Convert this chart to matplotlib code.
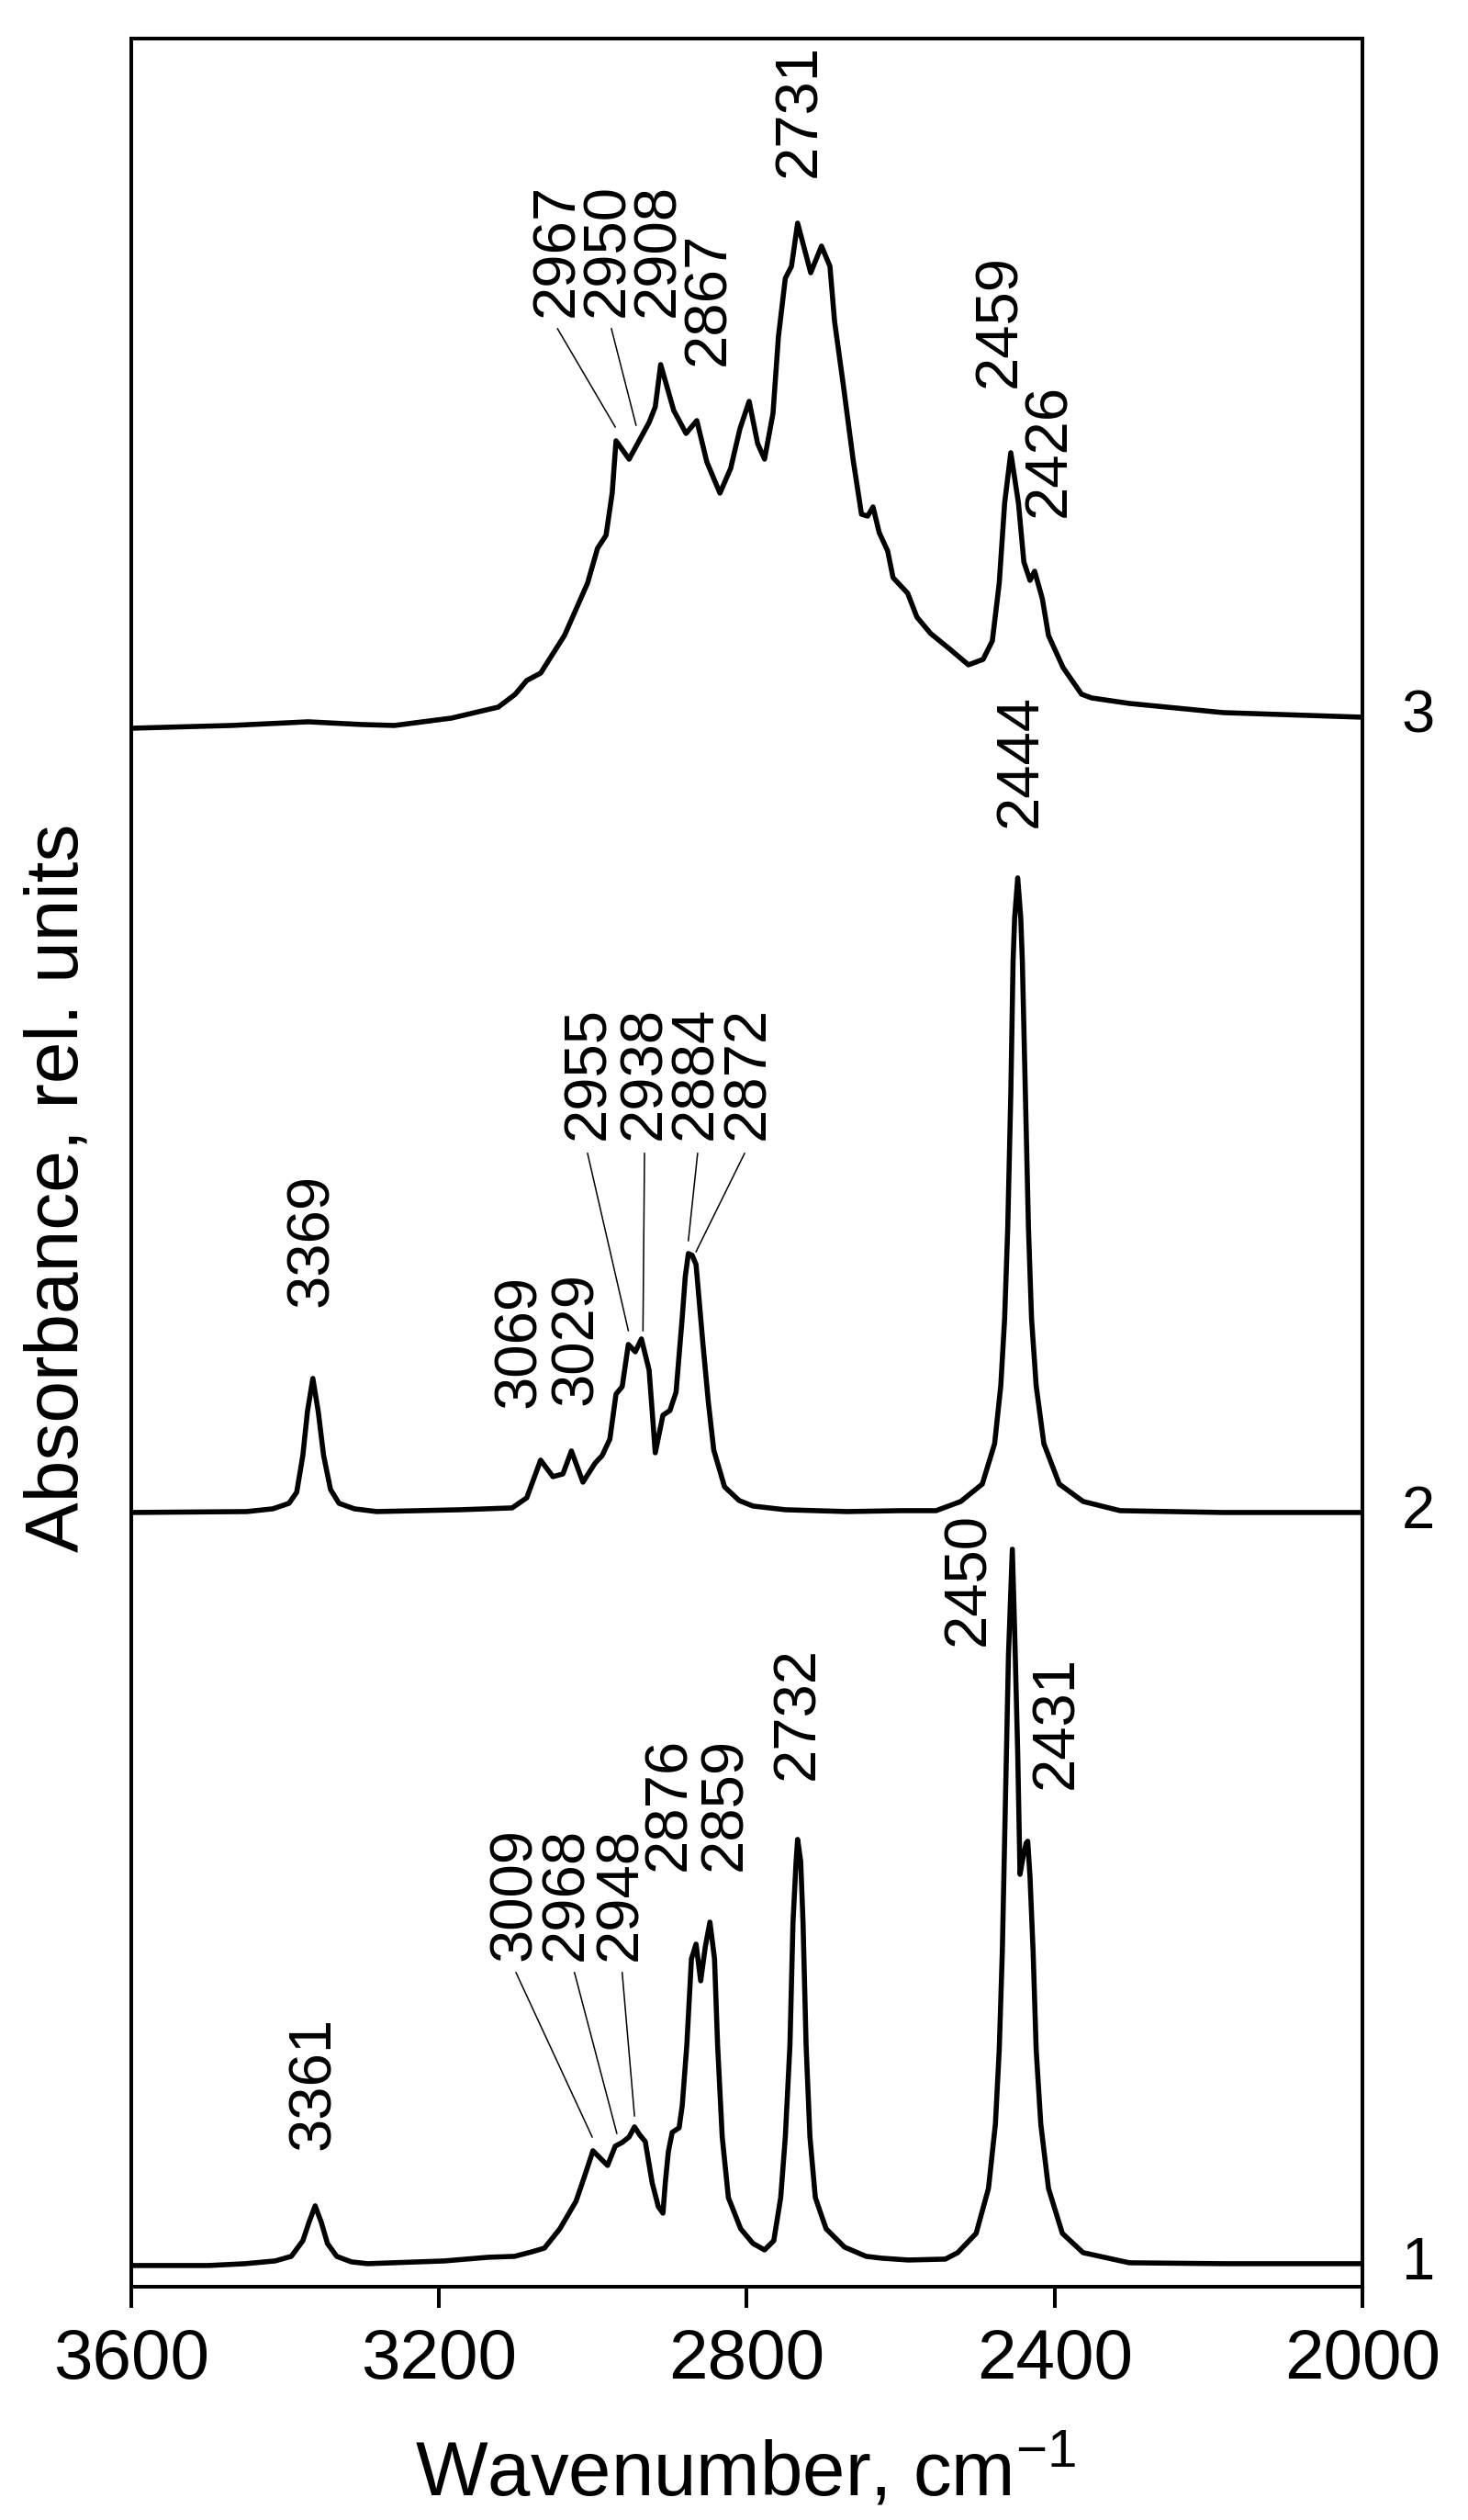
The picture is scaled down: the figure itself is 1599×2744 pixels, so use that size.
import matplotlib
matplotlib.use('Agg')
import matplotlib.pyplot as plt

# spectrum 1 (bottom)
wn1 = [3600, 3500, 3452, 3413, 3392, 3377, 3369, 3361, 3353, 3345, 3333, 3314, 3293, 3193, 3136,
       3102, 3079, 3063, 3043, 3022, 3011, 3000, 2993, 2981, 2971, 2962, 2953, 2946, 2939, 2932,
       2923, 2915, 2909, 2906, 2902, 2897, 2888, 2884, 2878, 2872, 2866, 2860, 2854, 2848, 2842,
       2838, 2832, 2824, 2808, 2792, 2777, 2765, 2756, 2750, 2744, 2740, 2736, 2734, 2730, 2727,
       2723, 2718, 2711, 2697, 2673, 2645, 2625, 2590, 2542, 2526, 2502, 2486, 2477, 2472, 2468,
       2464, 2460, 2455, 2452, 2448, 2445, 2441, 2437, 2435, 2432, 2428, 2424, 2418, 2408, 2390,
       2363, 2303, 2181, 2000]
abs1 = [0.000, 0.000, 0.002, 0.005, 0.010, 0.027, 0.047, 0.065, 0.047, 0.024, 0.010, 0.004, 0.002, 0.005, 0.009,
        0.010, 0.015, 0.019, 0.040, 0.070, 0.097, 0.125, 0.119, 0.109, 0.130, 0.134, 0.140, 0.151, 0.142, 0.135,
        0.090, 0.064, 0.057, 0.090, 0.124, 0.145, 0.150, 0.174, 0.240, 0.334, 0.350, 0.310, 0.347, 0.374, 0.334,
        0.240, 0.140, 0.074, 0.040, 0.024, 0.017, 0.027, 0.074, 0.140, 0.240, 0.374, 0.440, 0.464, 0.440, 0.374,
        0.240, 0.140, 0.074, 0.040, 0.020, 0.010, 0.008, 0.006, 0.007, 0.014, 0.035, 0.084, 0.154, 0.235, 0.342,
        0.504, 0.665, 0.780, 0.692, 0.558, 0.426, 0.445, 0.460, 0.462, 0.423, 0.342, 0.235, 0.154, 0.084, 0.035,
        0.014, 0.003, 0.002, 0.002]

# spectrum 2 (middle)
wn2 = [3600, 3450, 3416, 3395, 3385, 3377, 3371, 3364, 3357, 3350, 3341, 3330, 3310, 3281, 3172,
       3105, 3086, 3068, 3052, 3039, 3028, 3013, 2997, 2988, 2978, 2970, 2962, 2954, 2945, 2937,
       2927, 2919, 2909, 2900, 2892, 2884, 2880, 2876, 2871, 2866, 2857, 2850, 2843, 2829, 2810,
       2792, 2750, 2670, 2600, 2554, 2522, 2494, 2478, 2470, 2465, 2461, 2457, 2454, 2452, 2448,
       2444, 2442, 2438, 2434, 2430, 2424, 2414, 2394, 2363, 2315, 2181, 2000]
abs2 = [0.000, 0.001, 0.004, 0.010, 0.022, 0.062, 0.110, 0.146, 0.110, 0.062, 0.025, 0.010, 0.004, 0.001, 0.003,
        0.005, 0.016, 0.057, 0.039, 0.042, 0.067, 0.033, 0.054, 0.062, 0.080, 0.129, 0.137, 0.183, 0.175, 0.189,
        0.155, 0.065, 0.106, 0.111, 0.131, 0.212, 0.257, 0.282, 0.280, 0.270, 0.183, 0.120, 0.068, 0.028, 0.013,
        0.007, 0.003, 0.001, 0.002, 0.002, 0.012, 0.031, 0.075, 0.138, 0.211, 0.309, 0.455, 0.601, 0.647, 0.691,
        0.647, 0.601, 0.455, 0.309, 0.211, 0.138, 0.075, 0.031, 0.012, 0.002, 0.000, 0.000]

# spectrum 3 (top)
wn3 = [3600, 3470, 3370, 3300, 3258, 3184, 3123, 3101, 3086, 3068, 3037, 3007, 2994, 2983, 2975,
       2970, 2953, 2927, 2919, 2912, 2895, 2879, 2865, 2852, 2835, 2821, 2809, 2797, 2786, 2777,
       2766, 2759, 2750, 2742, 2734, 2717, 2703, 2692, 2686, 2675, 2662, 2651, 2643, 2636, 2628,
       2617, 2610, 2591, 2579, 2561, 2536, 2512, 2493, 2481, 2472, 2465, 2457, 2447, 2440, 2432,
       2426, 2416, 2408, 2389, 2365, 2352, 2303, 2181, 2000]
abs3 = [0.000, 0.003, 0.007, 0.004, 0.003, 0.011, 0.023, 0.037, 0.052, 0.060, 0.101, 0.158, 0.196, 0.210, 0.256,
        0.313, 0.293, 0.333, 0.350, 0.396, 0.346, 0.321, 0.335, 0.290, 0.256, 0.283, 0.326, 0.356, 0.310, 0.293,
        0.343, 0.426, 0.490, 0.503, 0.550, 0.496, 0.525, 0.503, 0.443, 0.376, 0.293, 0.233, 0.231, 0.241, 0.213,
        0.193, 0.164, 0.147, 0.121, 0.103, 0.086, 0.069, 0.075, 0.095, 0.158, 0.245, 0.300, 0.245, 0.181, 0.161,
        0.171, 0.141, 0.101, 0.066, 0.037, 0.033, 0.027, 0.017, 0.012]

offsets = [0.023, 0.843, 1.697]
spectrum_names = ['1', '2', '3']

# peak labels: text, wavenumber of label, height of label start
peaks1 = ['3361', '3009', '2968', '2948', '2876', '2859', '2732', '2450', '2431']
peaks1_x = [3363, 3101, 3034, 2964, 2900, 2828, 2734, 2512, 2397]
peaks1_y = [0.149, 0.355, 0.355, 0.355, 0.453, 0.453, 0.552, 0.698, 0.542]

peaks2 = ['3369', '3069', '3029', '2955', '2938', '2884', '2872', '2444']
peaks2_x = [3365, 3095, 3021, 3005, 2933, 2866, 2798, 2444]
peaks2_y = [1.067, 0.957, 0.960, 1.249, 1.249, 1.249, 1.249, 1.589]

peaks3 = ['2967', '2950', '2908', '2867', '2731', '2459', '2426']
peaks3_x = [3046, 2981, 2915, 2849, 2731, 2471, 2407]
peaks3_y = [2.145, 2.145, 2.145, 2.092, 2.297, 2.068, 1.927]

# leader lines: (x0, x1, y0, y1)
leaders = [
    (3100, 3001, 0.342, 0.163),
    (3024, 2969, 0.342, 0.167),
    (2962, 2946, 0.342, 0.186),
    (3007, 2954, 1.234, 1.041),
    (2933, 2935, 1.234, 1.041),
    (2864, 2876, 1.234, 1.139),
    (2803, 2866, 1.234, 1.127),
    (3046, 2971, 2.132, 2.025),
    (2976, 2944, 2.132, 2.027),
]

plt.rcParams['font.family'] = ['Liberation Sans', 'DejaVu Sans']
plt.rcParams['mathtext.default'] = 'regular'

fig = plt.figure(figsize=(15.99, 27.44), dpi=100)
ax = fig.add_axes([0.0894, 0.0926, 0.8387, 0.8921])

spectra = [(wn1, abs1), (wn2, abs2), (wn3, abs3)]
for (wn, a), off, name in zip(spectra, offsets, spectrum_names):
    ax.plot(wn, [v + off for v in a], color='black', lw=4.0,
            solid_joinstyle='round', solid_capstyle='round')
    ax.text(1.032, a[-1] + off, name, transform=ax.get_yaxis_transform(),
            ha='left', va='center', fontsize=47)

for labels, xs, ys in [(peaks1, peaks1_x, peaks1_y), (peaks2, peaks2_x, peaks2_y), (peaks3, peaks3_x, peaks3_y)]:
    for t, x, y in zip(labels, xs, ys):
        ax.text(x, y, t, rotation=90, ha='center', va='bottom', fontsize=47)

for x0, x1, y0, y1 in leaders:
    ax.plot([x0, x1], [y0, y1], color='black', lw=1.1)

ax.set_xlim(3600, 2000)
ax.set_ylim(0, 2.448)
ax.set_xticks([3600, 3200, 2800, 2400, 2000])
ax.set_yticks([])
ax.tick_params(axis='x', direction='out', length=16.5, width=2.9, labelsize=55, pad=16)
for sp in ax.spines.values():
    sp.set_linewidth(2.9)

fig.text(0.508, 0.0095, 'Wavenumber, cm$^{-1}$', ha='center', va='baseline', fontsize=60)
fig.text(0.040, 0.5288, 'Absorbance, rel. units', rotation=90, ha='center', va='center', fontsize=59)

fig.savefig('out.png', dpi=100)
